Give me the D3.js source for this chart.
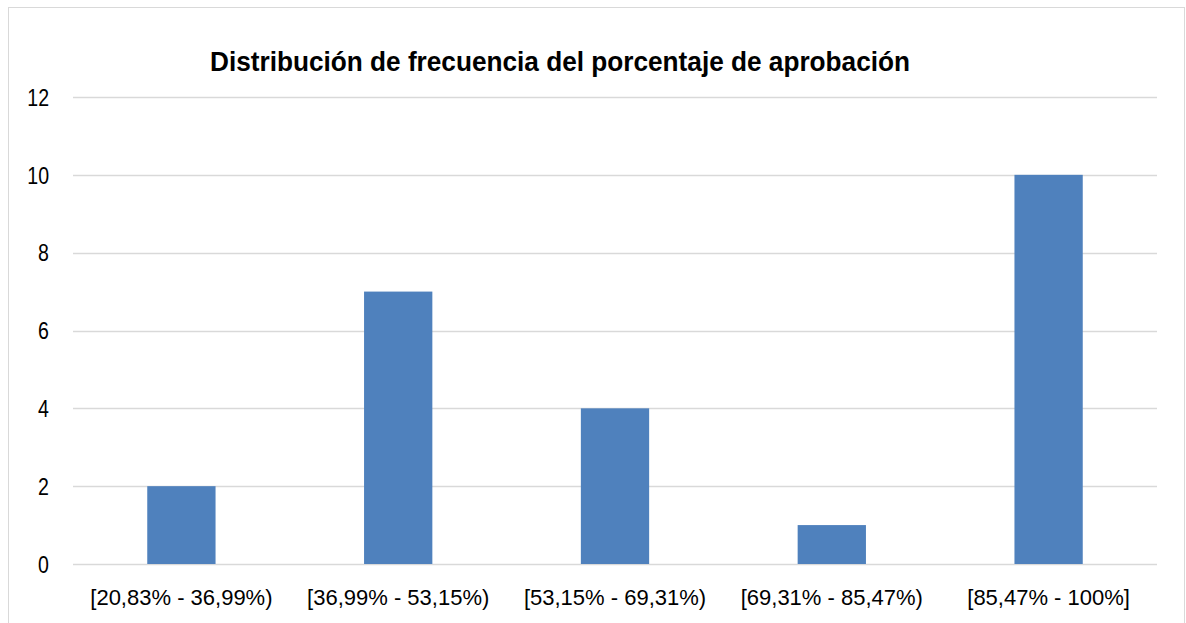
<!DOCTYPE html>
<html>
<head>
<meta charset="utf-8">
<style>
body { margin: 0; background: #ffffff; }
.tick text { font-family: "Liberation Sans", Arial, sans-serif; fill: #000; }
</style>
</head>
<body>
<div id="chart"></div>
<script src="https://d3js.org/d3.v7.min.js"></script>
<script>
// data
var categories = ["[20,83% - 36,99%)", "[36,99% - 53,15%)", "[53,15% - 69,31%)", "[69,31% - 85,47%)", "[85,47% - 100%]"];
var frequencies = [2, 7, 4, 1, 10];
var yTicks = [0, 2, 4, 6, 8, 10, 12];
var chartTitle = "Distribución de frecuencia del porcentaje de aprobación";

var W = 1186, H = 623;
var margin = {top: 97, right: 29, bottom: 59, left: 73},
    width = W - margin.left - margin.right,
    height = H - margin.top - margin.bottom;

var root = d3.select("#chart").append("svg")
    .attr("width", W)
    .attr("height", H);

// chart area border
root.append("rect")
    .attr("x", 8.5).attr("y", 7.5)
    .attr("width", 1176).attr("height", 630)
    .attr("fill", "#fff")
    .attr("stroke", "#d9d9d9");

// title (narrow look via textLength)
root.append("text")
    .attr("x", 210).attr("y", 71)
    .attr("textLength", 700)
    .attr("lengthAdjust", "spacingAndGlyphs")
    .style("font-family", "'Liberation Sans', Arial, sans-serif")
    .style("font-weight", "bold")
    .style("font-size", "28.5px")
    .text(chartTitle);

var svg = root.append("g")
    .attr("transform", "translate(" + margin.left + "," + margin.top + ")");

var x = d3.scaleBand()
    .domain(categories)
    .range([0, width])
    .paddingInner(0.685)
    .paddingOuter(0.3425);

var y = d3.scaleLinear()
    .domain([0, 12])
    .range([height, 0]);

// gridlines
svg.append("g")
  .selectAll("line")
  .data(yTicks)
  .enter().append("line")
    .attr("x1", 0).attr("x2", width)
    .attr("y1", function(d) { return Math.round(y(d)) + 0.5; })
    .attr("y2", function(d) { return Math.round(y(d)) + 0.5; })
    .attr("stroke", "#d9d9d9")
    .attr("stroke-width", 1.5);

// y axis
var yAxis = svg.append("g")
    .attr("transform", "translate(-24,0)")
    .call(d3.axisLeft(y).tickValues(yTicks).tickSize(0).tickPadding(0));
yAxis.select(".domain").remove();
yAxis.selectAll(".tick text")
    .style("font-size", "23px")
    .attr("dy", "0.36em")
    .attr("transform", "scale(0.85,1)");

// bars
svg.selectAll("rect.bar")
  .data(frequencies)
  .enter().append("rect")
    .attr("class", "bar")
    .attr("x", function(d, i) { return x(categories[i]); })
    .attr("y", function(d) { return y(d); })
    .attr("width", x.bandwidth())
    .attr("height", function(d) { return height - y(d); })
    .attr("fill", "#4f81bd");

// x axis
var xAxis = svg.append("g")
    .attr("transform", "translate(0," + height + ")")
    .call(d3.axisBottom(x).tickSize(0).tickPadding(25));
xAxis.select(".domain").remove();
xAxis.selectAll("text").style("font-size", "22px");
</script>
</body>
</html>
